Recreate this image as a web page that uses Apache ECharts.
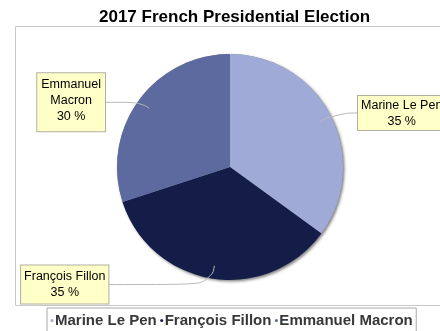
<!DOCTYPE html>
<html>
<head>
<meta charset="utf-8">
<script src="https://cdn.jsdelivr.net/npm/echarts@6/dist/echarts.min.js"></script>
<style>
  html, body { margin: 0; padding: 0; background: #ffffff; }
  #chart { width: 440px; height: 331px; }
</style>
</head>
<body>
<div id="chart"></div>
<script>
// Vote shares by candidate
const categories = ['Marine Le Pen', 'François Fillon', 'Emmanuel Macron'];
const shares = [35, 35, 30];
const sliceColors = ['#A0AAD7', '#141D48', '#5C6AA0'];

const FONT = "'Liberation Sans', Arial, Helvetica, sans-serif";
const CENTER = [230, 167];
const PIE_R = 113;
const LABEL_R = 100;          // connectors start a little inside the rim
// connector legs per slice (radial, horizontal)
const legLen = [19, 19, 10];
const legLen2 = [22, 103, 36];
const labelPad = [[2, 3, 0, 3], [3, 3, 3, 3], [3, 4, 7, 4]];
const wrapName = [false, false, true];

const chart = echarts.init(document.getElementById('chart'), null, { renderer: 'canvas' });

chart.setOption({
  animation: false,
  backgroundColor: '#ffffff',
  title: {
    text: '2017 French Presidential Election',
    left: 99,
    top: 9,
    padding: 0,
    textStyle: { fontFamily: FONT, fontSize: 17, fontWeight: 'bold', color: '#000000' }
  },
  legend: {
    data: categories,
    left: 47,
    top: 308,
    padding: [5, 3.5],
    borderColor: '#a8a8a8',
    borderWidth: 1,
    backgroundColor: '#ffffff',
    icon: 'circle',
    itemWidth: 3,
    itemHeight: 3,
    itemGap: 3.5,
    selectedMode: false,
    textStyle: { fontFamily: FONT, fontSize: 15, fontWeight: 'bold', color: '#383838', padding: [0, 0, 0, -3.5] }
  },
  graphic: [{
    type: 'rect',
    silent: true,
    z: -1,
    shape: { x: 15.5, y: 26.5, width: 440, height: 279 },
    style: { fill: 'none', stroke: '#c8c8c8', lineWidth: 1 }
  }],
  series: [
    {
      // soft drop shadow under the whole disc
      type: 'pie',
      center: CENTER,
      radius: PIE_R,
      silent: true,
      data: [{ value: 1, name: '' }],
      label: { show: false },
      labelLine: { show: false },
      emphasis: { disabled: true },
      itemStyle: {
        color: '#8a8a8a',
        shadowColor: 'rgba(0,0,0,0.5)',
        shadowBlur: 3,
        shadowOffsetX: 1.5,
        shadowOffsetY: 1.5
      }
    },
    {
      type: 'pie',
      center: CENTER,
      radius: PIE_R,
      startAngle: 90,
      clockwise: true,
      silent: true,
      data: categories.map((name, i) => ({ name, value: shares[i], itemStyle: { color: sliceColors[i] } })),
      itemStyle: { borderWidth: 0 },
      label: { show: false },
      labelLine: { show: false },
      emphasis: { disabled: true }
    },
    {
      // transparent twin that carries the callout labels
      type: 'pie',
      z: 3,
      center: CENTER,
      radius: LABEL_R,
      startAngle: 90,
      clockwise: true,
      silent: true,
      avoidLabelOverlap: false,
      data: categories.map((name, i) => ({
        name,
        value: shares[i],
        label: { padding: labelPad[i] },
        labelLine: { length: legLen[i], length2: legLen2[i] }
      })),
      itemStyle: { color: 'rgba(0,0,0,0)', borderWidth: 0 },
      emphasis: { disabled: true },
      label: {
        show: true,
        formatter: function (p) {
          const lines = wrapName[p.dataIndex] ? p.name.split(' ') : [p.name];
          return lines.concat(p.percent + ' %').map(s => '{t|' + s + '}').join('\n');
        },
        distanceToLabelLine: 0,
        backgroundColor: '#FFFFC8',
        borderColor: '#b0b0a0',
        borderWidth: 1,
        fontFamily: FONT,
        fontSize: 12.5,
        color: '#000000',
        rich: {
          t: { align: 'center', fontFamily: FONT, fontSize: 12.5, lineHeight: 16, color: '#000000' }
        }
      },
      labelLine: {
        show: true,
        smooth: 0.6,
        lineStyle: { color: '#b8b8b8', width: 1 }
      }
    }
  ]
});
</script>
</body>
</html>
